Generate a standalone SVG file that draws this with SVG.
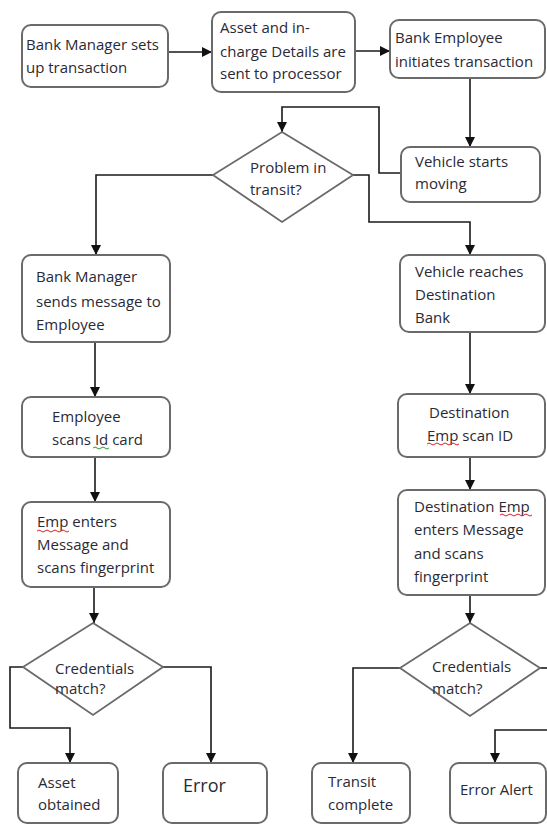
<svg xmlns="http://www.w3.org/2000/svg" width="547" height="825" viewBox="0 0 547 825">
<defs>
<marker id="arr" markerUnits="userSpaceOnUse" markerWidth="10" markerHeight="10" refX="10" refY="5" orient="auto">
<path d="M0,0 L10,5 L0,10 Z" fill="#111"/>
</marker>
<style>
.box{fill:#fff;stroke:#6a6a6a;stroke-width:2}
.dia{fill:#fff;stroke:#6a6a6a;stroke-width:1.8}
.t{font-family:"Open Sans","Liberation Sans",sans-serif;font-size:15px;fill:#2a2a35}
.big{font-size:18px}
.c{fill:none;stroke:#1a1a1a;stroke-width:1.6}
.ca{fill:none;stroke:#1a1a1a;stroke-width:1.6;marker-end:url(#arr)}
.sq{fill:none;stroke:#e02020;stroke-width:1}
.sqg{fill:none;stroke:#2a9a2a;stroke-width:1}
</style>
</defs>
<rect width="547" height="825" fill="#fff"/>

<g id="connectors">
<line class="ca" x1="168" y1="52" x2="212" y2="52"/>
<line class="ca" x1="355" y1="51" x2="390" y2="51"/>
<line class="ca" x1="470" y1="78" x2="470" y2="147"/>
<polyline class="ca" points="401,173 379,173 379,107 282,107 282,132"/>
<polyline class="ca" points="213,175 96,175 96,255"/>
<polyline class="ca" points="353,175 369,175 369,222 470,222 470,255"/>
<line class="ca" x1="95" y1="342" x2="95" y2="397"/>
<line class="ca" x1="95" y1="457" x2="95" y2="502"/>
<line class="ca" x1="94" y1="587" x2="94" y2="623"/>
<polyline class="ca" points="23,667 10,667 10,728 70,728 70,763"/>
<polyline class="ca" points="163,667 211,667 211,763"/>
<line class="ca" x1="470" y1="332" x2="470" y2="394"/>
<line class="ca" x1="470" y1="457" x2="470" y2="490"/>
<line class="ca" x1="470" y1="595" x2="470" y2="623"/>
<polyline class="ca" points="400,668 353,668 353,763"/>
<line class="c" x1="540" y1="668" x2="547" y2="668"/>
<polyline class="ca" points="547,730 495,730 495,763"/>
</g>

<g id="n1">
<rect class="box" x="22" y="25" width="146" height="62" rx="9"/>
<text class="t" x="26" y="50">Bank Manager sets</text>
<text class="t" x="26" y="73">up transaction</text>
</g>
<g id="n2">
<rect class="box" x="212" y="12" width="143" height="80" rx="9"/>
<text class="t" x="220" y="33">Asset and in-</text>
<text class="t" x="220" y="57">charge Details are</text>
<text class="t" x="220" y="79">sent to processor</text>
</g>
<g id="n3">
<rect class="box" x="390" y="20" width="155" height="58" rx="9"/>
<text class="t" x="395" y="43">Bank Employee</text>
<text class="t" x="395" y="67">initiates transaction</text>
</g>
<g id="n4">
<rect class="box" x="401" y="147" width="139" height="55" rx="9"/>
<text class="t" x="415" y="167">Vehicle starts</text>
<text class="t" x="415" y="189">moving</text>
</g>
<g id="d1">
<polygon class="dia" points="282,132 353,175 282,222 213,175"/>
<text class="t" x="250" y="173">Problem in</text>
<text class="t" x="250" y="195">transit?</text>
</g>
<g id="n5">
<rect class="box" x="22" y="255" width="148" height="87" rx="9"/>
<text class="t" x="36" y="282">Bank Manager</text>
<text class="t" x="36" y="307">sends message to</text>
<text class="t" x="36" y="330">Employee</text>
</g>
<g id="n6">
<rect class="box" x="22" y="397" width="148" height="60" rx="9"/>
<text class="t" x="52" y="422">Employee</text>
<text class="t" x="52" y="445">scans Id card</text>
<path class="sqg" d="M93,448 q2,-2 4,0 t4,0 t4,0 t4,0"/>
</g>
<g id="n7">
<rect class="box" x="22" y="502" width="148" height="85" rx="9"/>
<text class="t" x="37" y="527">Emp enters</text>
<text class="t" x="37" y="550">Message and</text>
<text class="t" x="37" y="573">scans fingerprint</text>
<path class="sq" d="M37,531 q2,-2 4,0 t4,0 t4,0 t4,0 t4,0 t4,0 t4,0 t4,0"/>
</g>
<g id="d2">
<polygon class="dia" points="93,623 163,667 93,715 23,667"/>
<text class="t" x="55" y="674">Credentials</text>
<text class="t" x="55" y="694">match?</text>
</g>
<g id="n8">
<rect class="box" x="18" y="763" width="100" height="60" rx="9"/>
<text class="t" x="38" y="788">Asset</text>
<text class="t" x="38" y="810">obtained</text>
</g>
<g id="n9">
<rect class="box" x="163" y="763" width="104" height="60" rx="9"/>
<text class="t big" x="183" y="792">Error</text>
</g>
<g id="n10">
<rect class="box" x="400" y="255" width="145" height="77" rx="9"/>
<text class="t" x="415" y="277">Vehicle reaches</text>
<text class="t" x="415" y="300">Destination</text>
<text class="t" x="415" y="323">Bank</text>
</g>
<g id="n11">
<rect class="box" x="398" y="394" width="147" height="63" rx="9"/>
<text class="t" x="429" y="418">Destination</text>
<text class="t" x="427" y="441">Emp scan ID</text>
<path class="sq" d="M427,444 q2,-2 4,0 t4,0 t4,0 t4,0 t4,0 t4,0 t4,0 t4,0"/>
</g>
<g id="n12">
<rect class="box" x="398" y="490" width="147" height="105" rx="9"/>
<text class="t" x="414" y="512">Destination Emp</text>
<text class="t" x="414" y="535">enters Message</text>
<text class="t" x="414" y="559">and scans</text>
<text class="t" x="414" y="582">fingerprint</text>
<path class="sq" d="M500,515 q2,-2 4,0 t4,0 t4,0 t4,0 t4,0 t4,0 t4,0 t4,0"/>
</g>
<g id="d3">
<polygon class="dia" points="470,623 540,668 470,716 400,668"/>
<text class="t" x="432" y="672">Credentials</text>
<text class="t" x="432" y="694">match?</text>
</g>
<g id="n13">
<rect class="box" x="312" y="763" width="98" height="60" rx="9"/>
<text class="t" x="328" y="787">Transit</text>
<text class="t" x="328" y="810">complete</text>
</g>
<g id="n14">
<rect class="box" x="450" y="763" width="96" height="60" rx="9"/>
<text class="t" x="460" y="795">Error Alert</text>
</g>
</svg>
